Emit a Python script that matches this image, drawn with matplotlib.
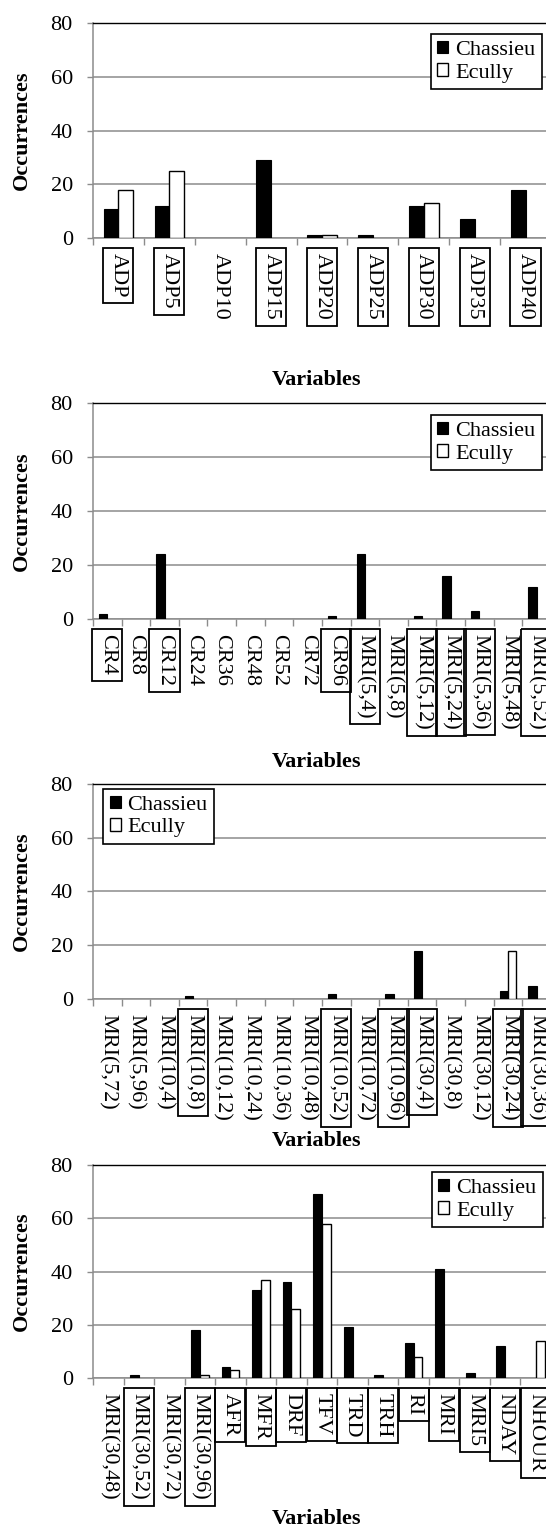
import numpy as np
import matplotlib
matplotlib.use('Agg')
import matplotlib.pyplot as plt
from matplotlib.patches import Patch

plt.rcParams['font.family'] = ['Liberation Serif', 'DejaVu Serif']

# panel 1
labels1 = ['ADP', 'ADP5', 'ADP10', 'ADP15', 'ADP20', 'ADP25', 'ADP30', 'ADP35', 'ADP40']
chassieu1 = [11, 12, 0, 29, 1, 1, 12, 7, 18]
ecully1 = [18, 25, 0, 0, 1, 0, 13, 0, 0]
boxed1 = ['ADP', 'ADP5', 'ADP15', 'ADP20', 'ADP25', 'ADP30', 'ADP35', 'ADP40']

# panel 2
labels2 = ['CR4', 'CR8', 'CR12', 'CR24', 'CR36', 'CR48', 'CR52', 'CR72', 'CR96',
           'MRI(5,4)', 'MRI(5,8)', 'MRI(5,12)', 'MRI(5,24)', 'MRI(5,36)', 'MRI(5,48)', 'MRI(5,52)']
chassieu2 = [2, 0, 24, 0, 0, 0, 0, 0, 1, 24, 0, 1, 16, 3, 0, 12]
ecully2 = [0] * 16
boxed2 = ['CR4', 'CR12', 'CR96', 'MRI(5,4)', 'MRI(5,12)', 'MRI(5,24)', 'MRI(5,36)', 'MRI(5,52)']

# panel 3
labels3 = ['MRI(5,72)', 'MRI(5,96)', 'MRI(10,4)', 'MRI(10,8)', 'MRI(10,12)', 'MRI(10,24)',
           'MRI(10,36)', 'MRI(10,48)', 'MRI(10,52)', 'MRI(10,72)', 'MRI(10,96)', 'MRI(30,4)',
           'MRI(30,8)', 'MRI(30,12)', 'MRI(30,24)', 'MRI(30,36)']
chassieu3 = [0, 0, 0, 1, 0, 0, 0, 0, 2, 0, 2, 18, 0, 0, 3, 5]
ecully3 = [0, 0, 0, 0, 0, 0, 0, 0, 0, 0, 0, 0, 0, 0, 18, 0]
boxed3 = ['MRI(10,8)', 'MRI(10,52)', 'MRI(10,96)', 'MRI(30,4)', 'MRI(30,24)', 'MRI(30,36)']

# panel 4
labels4 = ['MRI(30,48)', 'MRI(30,52)', 'MRI(30,72)', 'MRI(30,96)', 'AFR', 'MFR', 'DRF', 'TFV',
           'TRD', 'TRH', 'RI', 'MRI', 'MRI5', 'NDAY', 'NHOUR']
chassieu4 = [0, 1, 0, 18, 4, 33, 36, 69, 19, 1, 13, 41, 2, 12, 0]
ecully4 = [0, 0, 0, 1, 3, 37, 26, 58, 0, 0, 8, 0, 0, 0, 14]
boxed4 = ['MRI(30,52)', 'MRI(30,96)', 'AFR', 'MFR', 'DRF', 'TFV', 'TRD', 'TRH', 'RI', 'MRI',
          'MRI5', 'NDAY', 'NHOUR']

GRID = '#8c8c8c'

fig = plt.figure(figsize=(5.46, 15.30), dpi=100)


def draw_panel(rect, labels, chassieu, ecully, boxed, loc, anchor):
    ax = fig.add_axes(rect)
    x = np.arange(len(labels))
    w = 0.29
    ax.bar(x - w / 2, chassieu, w, color='black', edgecolor='black',
           linewidth=[0.8 if v else 0 for v in chassieu], zorder=3)
    ax.bar(x + w / 2, ecully, w, color='white', edgecolor='black',
           linewidth=[1.0 if v else 0 for v in ecully], zorder=3)

    ax.set_xlim(-0.5, len(labels) - 0.5)
    ax.set_ylim(0, 80)
    ax.set_yticks([0, 20, 40, 60, 80])
    ax.yaxis.grid(True, color=GRID, linewidth=1.1)
    ax.set_axisbelow(True)

    for s in ['left', 'bottom']:
        ax.spines[s].set_color(GRID)
        ax.spines[s].set_linewidth(1.1)
    ax.spines['top'].set_color('black')
    ax.spines['top'].set_linewidth(1.0)
    ax.spines['right'].set_visible(False)

    ax.tick_params(axis='y', direction='out', length=4.5, width=1.0, color=GRID,
                   pad=10, labelsize=16)
    ax.set_xticks(x)
    ax.set_xticklabels(labels, rotation=-90, fontsize=16)
    ax.tick_params(axis='x', which='major', length=0, pad=11)
    ax.set_xticks(np.arange(len(labels) + 1) - 0.5, minor=True)
    ax.tick_params(axis='x', which='minor', direction='out', length=5, width=1.0, color=GRID)

    for tl in ax.get_xticklabels():
        if tl.get_text() in boxed:
            tl.set_bbox(dict(boxstyle='square,pad=0.25', fc='none', ec='black', lw=1.3))

    ax.set_ylabel('Occurrences', fontsize=16, fontweight='bold', va='center')
    ax.yaxis.set_label_coords(-0.155, 0.5)
    ax.set_xlabel('Variables', fontsize=16, fontweight='bold', va='center')
    ax.xaxis.set_label_coords(0.489, -0.66)

    handles = [Patch(facecolor='black', edgecolor='black', linewidth=0.8),
               Patch(facecolor='white', edgecolor='black', linewidth=1.0)]
    leg = ax.legend(handles, ['Chassieu', 'Ecully'], loc=loc, bbox_to_anchor=anchor,
                    frameon=True, fancybox=False, edgecolor='black', framealpha=1,
                    fontsize=16, handlelength=0.5, handleheight=0.5, handletextpad=0.3,
                    labelspacing=0.15, borderpad=0.3, borderaxespad=0)
    leg.get_frame().set_linewidth(1.2)
    return ax


draw_panel([0.1703, 0.8444, 0.8388, 0.1405], labels1, chassieu1, ecully1, boxed1,
           'upper right', (0.98, 0.949))
draw_panel([0.1703, 0.5954, 0.8388, 0.1412], labels2, chassieu2, ecully2, boxed2,
           'upper right', (0.98, 0.944))
draw_panel([0.1703, 0.3471, 0.8388, 0.1405], labels3, chassieu3, ecully3, boxed3,
           'upper left', (0.022, 0.977))
draw_panel([0.1703, 0.0993, 0.8388, 0.1392], labels4, chassieu4, ecully4, boxed4,
           'upper right', (0.9825, 0.967))

fig.savefig('out.png', dpi=100)
